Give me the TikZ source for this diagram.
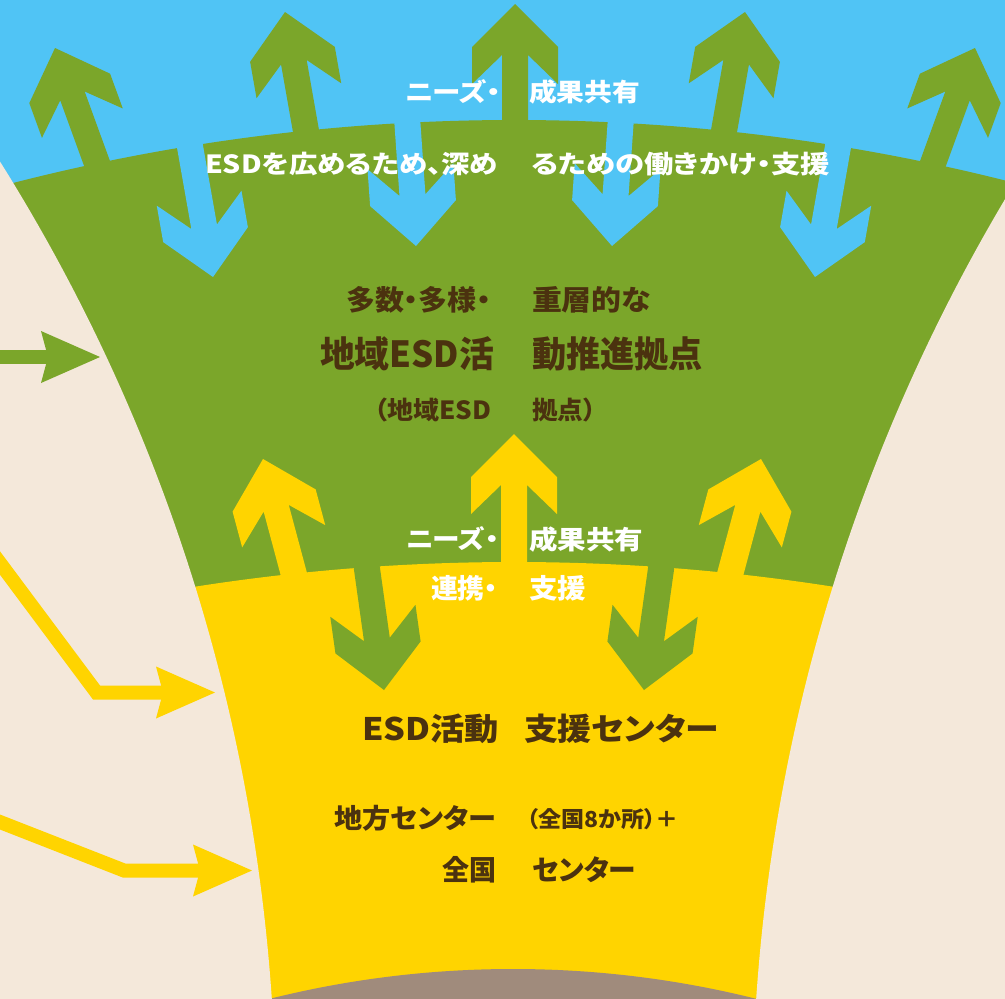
\documentclass[tikz,border=0pt]{standalone}
\usepackage{fontspec}
\usepackage{graphicx}
\newfontfamily\jp{Noto Sans CJK JP}[RawFeature={+palt}]
\definecolor{sky}{HTML}{50C4F5}
\definecolor{leaf}{HTML}{7BA62A}
\definecolor{sun}{HTML}{FFD400}
\definecolor{cream}{HTML}{F4E8DA}
\definecolor{soil}{HTML}{A08B7C}
\definecolor{ink}{HTML}{4B320F}
\newsavebox\tbox
\newcommand\fitw[2]{\sbox\tbox{#2}\pgfmathsetmacro\sx{#1/\the\wd\tbox}\scalebox{\sx}[1]{\usebox\tbox}}
\newcommand\fs[1]{\jp\bfseries\fontsize{#1}{#1}\selectfont}
\newcommand\bigarrow[5]{\fill[#5, shift={(#1,-#2)}, rotate=#3] (0,0) -- (-43,43) -- (-80,43) -- (-51,13) -- (-#4,13) -- (-#4,-13) -- (-51,-13) -- (-80,-43) -- (-43,-43) -- cycle;}
\newcommand\smallhead[3]{\fill[#3] (#1,-#2) -- ++(-59,26) -- ++(7,-26) -- ++(-7,-26) -- cycle;}
\tikzset{txt/.style={inner sep=0pt, outer sep=0pt}}
\begin{document}
\begin{tikzpicture}[x=1pt,y=1pt]
\useasboundingbox (0,0) rectangle (1005,-999);
\clip (0,0) rectangle (1005,-999);
\fill[cream] (0,0) rectangle (1005,-999);
% layers of the funnel
\fill[sky] (0,0) rectangle (1005,-999);
\fill[leaf] (514,-2127.7) circle (2007.7);
\fill[sun] (514,-2609.7) circle (2047.7);
\fill[soil] (513,-1968) circle (999);
% top band arrows
\bigarrow{55}{48}{110}{150}{leaf}
\bigarrow{285}{12}{100}{150}{leaf}
\bigarrow{515}{4}{90}{145}{leaf}
\bigarrow{745}{12}{80}{150}{leaf}
\bigarrow{975}{48}{70}{150}{leaf}
\bigarrow{213}{277}{-80}{160}{sky}
\bigarrow{416}{246}{-86}{150}{sky}
\bigarrow{612}{246}{-94}{150}{sky}
\bigarrow{815}{277}{-100}{160}{sky}
% middle band arrows
\bigarrow{263}{459}{105}{145}{sun}
\bigarrow{514}{434}{90}{150}{sun}
\bigarrow{761}{459}{75}{145}{sun}
\bigarrow{384}{690}{-82}{150}{leaf}
\bigarrow{644}{690}{-98}{150}{leaf}
% funnel sides
\fill[cream] (-1535,-1123) circle (1811);
\fill[cream] (2563,-1123) circle (1811);
% left arrows
\coordinate (g0) at (-10,-357);
\coordinate (g1) at (50,-357);
\draw[leaf, line width=14pt] (g0) -- (g1);
\smallhead{100}{357}{leaf}
\coordinate (y0) at (-20,-536.2);
\coordinate (y1) at (96.5,-692.5);
\coordinate (y2) at (165,-692.5);
\draw[sun, line width=14pt, miter limit=10] (y0) -- (y1) -- (y2);
\smallhead{215}{692.5}{sun}
\coordinate (z0) at (-20,-814.2);
\coordinate (z1) at (124,-870.5);
\coordinate (z2) at (200,-870.5);
\draw[sun, line width=14pt, miter limit=10] (z0) -- (z1) -- (z2);
\smallhead{252}{870.5}{sun}
% texts top band
\node[txt, anchor=east, text=white] (t1) at (501,-92) {\fitw{96}{\fs{25}ニーズ・}};
\node[txt, anchor=west, text=white] (t2) at (529,-92) {\fitw{111}{\fs{25}成果共有}};
\node[txt, anchor=east, text=white] (t3) at (498,-164) {\fitw{293}{\fs{25}ESDを広めるため、深め}};
\node[txt, anchor=west, text=white] (t4) at (531,-164) {\fitw{299}{\fs{25}るための働きかけ・支援}};
% texts green band
\node[txt, anchor=east, text=ink] (t5) at (491,-300) {\fitw{145}{\fs{28}多数・多様・}};
\node[txt, anchor=west, text=ink] (t6) at (532,-300) {\fitw{119}{\fs{28}重層的な}};
\node[txt, anchor=east, text=ink] (t7) at (494,-354) {\fitw{174}{\fs{36}地域ESD活}};
\node[txt, anchor=west, text=ink] (t8) at (532,-354) {\fitw{171}{\fs{36}動推進拠点}};
\node[txt, anchor=east, text=ink] (t9) at (491,-410) {\fitw{117}{\fs{25}（地域ESD}};
\node[txt, anchor=west, text=ink] (t10) at (532,-410) {\fitw{64}{\fs{25}拠点）}};
% texts middle
\node[txt, anchor=east, text=white] (t11) at (499,-539) {\fitw{93}{\fs{25}ニーズ・}};
\node[txt, anchor=west, text=white] (t12) at (529,-540) {\fitw{114}{\fs{26}成果共有}};
\node[txt, anchor=east, text=white] (t13) at (498,-588) {\fitw{67}{\fs{27}連携・}};
\node[txt, anchor=west, text=white] (t14) at (529,-588) {\fitw{57}{\fs{27}支援}};
% texts yellow band
\node[txt, anchor=east, text=ink] (t15) at (499,-729) {\fitw{137}{\fs{31}ESD活動}};
\node[txt, anchor=west, text=ink] (t16) at (524,-729) {\fitw{195}{\fs{31}支援センター}};
\node[txt, anchor=east, text=ink] (t17) at (496,-818) {\fitw{162}{\fs{27}地方センター}};
\node[txt, anchor=west, text=ink] (t18) at (527,-819) {\fitw{152}{\fs{22}（全国8か所）＋}};
\node[txt, anchor=east, text=ink] (t19) at (496,-870) {\fitw{54}{\fs{28}全国}};
\node[txt, anchor=west, text=ink] (t20) at (532,-870) {\fitw{104}{\fs{28}センター}};
\end{tikzpicture}
\end{document}
